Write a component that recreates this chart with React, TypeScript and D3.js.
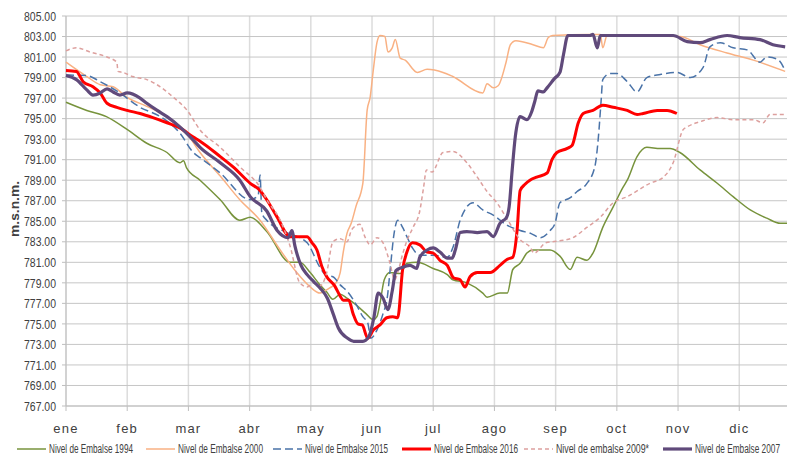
import React from "react";
import * as d3 from "d3";

// month labels (category axis, evenly spaced)
const meses = ["ene", "feb", "mar", "abr", "may", "jun", "jul", "ago", "sep", "oct", "nov", "dic"];
const yTicks = [767, 769, 771, 773, 775, 777, 779, 781, 783, 785, 787, 789, 791, 793, 795, 797, 799, 801, 803, 805];

// [posición en meses desde 1 ene, nivel m.s.n.m.]
const nivel1994: [number, number][] = [
  [0, 796.6], [0.34, 795.8], [0.66, 795.2], [1.01, 793.9], [1.32, 792.6], [1.65, 791.7], [1.86, 790.7], [1.92, 790.9],
  [1.97, 790.2], [2.19, 789.0], [2.52, 787.1], [2.84, 785.1], [3.01, 785.4], [3.28, 784.0], [3.66, 781.0], [3.82, 781.0],
  [3.99, 780.0], [4.15, 778.8], [4.26, 778.1], [4.36, 777.4], [4.48, 777.9], [4.59, 777.5], [4.75, 776.8], [4.9, 776.0],
  [5.02, 775.4], [5.08, 775.7], [5.13, 777.0], [5.2, 779.3], [5.29, 780.0], [5.46, 779.9], [5.57, 780.9], [5.74, 781.0],
  [6.0, 780.4], [6.23, 779.8], [6.32, 779.3], [6.55, 779.0], [6.81, 778.0], [6.88, 777.6], [7.09, 778.0], [7.21, 778.0],
  [7.3, 780.3], [7.42, 780.9], [7.53, 781.9], [7.63, 782.2], [7.75, 782.2], [7.91, 782.2], [8.07, 781.6], [8.24, 780.3],
  [8.35, 781.5], [8.51, 781.2], [8.61, 781.9], [8.77, 784.4], [8.94, 786.4], [9.1, 788.3], [9.17, 789.0], [9.33, 791.3],
  [9.49, 792.2], [9.71, 792.1], [9.87, 792.1], [10.03, 791.7], [10.36, 790.0], [10.64, 788.7], [10.9, 787.4],
  [11.18, 786.1], [11.45, 785.3], [11.67, 784.8], [11.78, 784.8],
];

const nivel2000: [number, number][] = [
  [0, 800.5], [0.34, 799.1], [0.56, 798.3], [0.77, 798.1], [0.99, 797.1], [1.32, 796.2], [1.65, 795.2], [1.97, 793.6],
  [2.19, 791.7], [2.52, 789.4], [2.84, 787.1], [3.17, 785.1], [3.5, 782.2], [3.77, 780.0], [3.99, 778.6], [4.15, 778.0],
  [4.22, 778.2], [4.31, 778.5], [4.41, 779.0], [4.48, 780.0], [4.53, 782.0], [4.59, 783.8], [4.66, 784.8], [4.74, 786.5],
  [4.85, 788.7], [4.92, 795.8], [4.97, 797.1], [5.02, 799.7], [5.08, 802.4], [5.13, 803.1], [5.21, 803.0], [5.26, 801.5],
  [5.33, 801.9], [5.38, 802.7], [5.46, 800.9], [5.54, 800.7], [5.74, 799.5], [5.9, 799.8], [6.16, 799.5], [6.32, 799.1],
  [6.81, 797.5], [6.88, 798.4], [6.98, 798.0], [7.06, 798.2], [7.19, 800.5], [7.26, 802.2], [7.35, 802.6], [7.63, 802.2],
  [7.8, 801.9], [7.88, 802.9], [7.95, 803.1], [8.56, 803.2], [8.73, 803.2], [8.77, 801.9], [8.84, 803.1], [10.03, 803.0],
  [10.36, 802.2], [10.8, 801.4], [11.23, 800.7], [11.75, 799.6],
];

const nivel2015: [number, number][] = [
  [0, 799.25], [0.34, 799.2], [0.56, 798.6], [0.88, 797.5], [1.21, 796.1], [1.54, 795.2], [1.86, 793.6], [2.08, 791.7],
  [2.19, 791.2], [2.52, 789.7], [3.01, 787.1], [3.14, 787.5], [3.17, 789.5], [3.2, 785.8], [3.28, 785.1], [3.61, 783.9],
  [3.94, 782.9], [4.15, 780.5], [4.26, 779.7], [4.36, 779.6], [4.48, 778.8], [4.59, 778.2], [4.75, 776.8], [4.85, 775.7],
  [4.93, 775.1], [4.98, 773.6], [5.08, 774.4], [5.18, 776.0], [5.25, 777.6], [5.3, 780.5], [5.36, 783.8], [5.42, 785.1],
  [5.5, 784.4], [5.57, 783.5], [5.66, 782.4], [5.78, 781.7], [6.0, 781.7], [6.23, 781.5], [6.33, 782.6], [6.44, 785.1],
  [6.65, 786.8], [6.81, 786.1], [6.98, 785.6], [7.21, 784.6], [7.42, 784.1], [7.6, 783.8], [7.75, 783.4], [7.91, 784.1],
  [7.99, 784.8], [8.07, 786.8], [8.24, 787.3], [8.35, 787.9], [8.5, 788.6], [8.64, 790.3], [8.7, 793.3], [8.74, 796.5],
  [8.77, 798.8], [8.89, 799.4], [9.0, 799.4], [9.17, 798.6], [9.33, 797.6], [9.49, 799.0], [9.71, 799.3], [9.98, 799.5],
  [10.2, 799.0], [10.41, 800.0], [10.52, 802.0], [10.69, 802.4], [10.9, 801.9], [11.13, 801.7], [11.34, 800.5],
  [11.45, 801.0], [11.62, 800.8], [11.75, 799.7],
];

const nivel2016: [number, number][] = [
  [0, 799.7], [0.17, 799.6], [0.28, 798.6], [0.44, 798.1], [0.56, 797.5], [0.67, 796.5], [0.83, 796.1], [1.0, 795.8],
  [1.21, 795.5], [1.42, 795.1], [1.65, 794.6], [1.86, 794.1], [2.08, 793.2], [2.19, 792.8], [2.52, 791.3], [2.73, 790.3],
  [3.01, 788.7], [3.17, 788.0], [3.28, 787.1], [3.45, 785.4], [3.66, 783.5], [3.94, 783.5], [4.02, 782.9], [4.1, 782.2],
  [4.18, 780.6], [4.26, 779.6], [4.39, 778.7], [4.48, 777.7], [4.53, 777.3], [4.62, 777.3], [4.69, 776.0], [4.77, 775.0],
  [4.84, 774.9], [4.93, 773.6], [5.02, 774.4], [5.13, 774.9], [5.24, 775.6], [5.34, 775.7], [5.42, 775.6], [5.5, 780.3],
  [5.57, 782.0], [5.66, 782.9], [5.78, 782.7], [5.9, 782.0], [6.0, 781.9], [6.11, 781.2], [6.23, 780.7], [6.33, 779.5],
  [6.44, 779.3], [6.52, 778.6], [6.6, 779.6], [6.72, 780.0], [6.93, 780.0], [7.09, 780.7], [7.21, 781.3], [7.3, 781.5],
  [7.37, 784.1], [7.42, 788.0], [7.5, 788.6], [7.58, 789.0], [7.69, 789.3], [7.86, 789.7], [7.94, 791.0], [8.02, 791.7],
  [8.19, 792.1], [8.27, 792.4], [8.37, 794.6], [8.45, 795.5], [8.61, 795.8], [8.77, 796.3], [8.94, 796.1], [9.17, 795.8],
  [9.33, 795.4], [9.43, 795.5], [9.66, 795.8], [9.82, 795.8], [9.98, 795.5],
];

const nivel2009: [number, number][] = [
  [0, 801.6], [0.17, 801.9], [0.39, 801.5], [0.67, 801.0], [0.83, 800.5], [0.85, 799.6], [0.93, 799.5], [1.09, 799.1],
  [1.32, 798.8], [1.54, 798.1], [1.75, 797.1], [1.98, 795.8], [2.19, 793.9], [2.52, 792.2], [2.84, 790.3], [3.17, 788.3],
  [3.28, 787.1], [3.5, 785.1], [3.66, 782.6], [3.82, 779.0], [3.94, 778.6], [4.04, 779.0], [4.15, 778.7], [4.26, 780.0],
  [4.36, 783.0], [4.48, 783.3], [4.59, 783.0], [4.67, 784.2], [4.8, 784.7], [4.89, 783.4], [4.97, 782.7], [5.08, 783.4],
  [5.18, 782.9], [5.29, 781.0], [5.37, 779.3], [5.42, 780.0], [5.5, 781.8], [5.57, 783.1], [5.67, 784.4], [5.78, 786.0],
  [5.84, 788.2], [5.89, 790.0], [5.98, 789.8], [6.16, 791.7], [6.32, 791.8], [6.55, 790.7], [6.72, 789.3], [6.88, 787.9],
  [7.04, 786.8], [7.21, 785.2], [7.42, 783.2], [7.58, 782.5], [7.65, 781.9], [7.84, 782.9], [8.07, 783.1], [8.28, 783.4],
  [8.51, 784.4], [8.73, 785.4], [8.94, 786.8], [9.17, 787.4], [9.54, 788.7], [9.76, 789.3], [9.92, 790.7], [10.08, 793.9],
  [10.15, 794.2], [10.36, 794.7], [10.64, 795.1], [10.9, 794.9], [11.23, 794.9], [11.39, 794.6], [11.5, 795.4],
  [11.75, 795.4],
];

const nivel2007: [number, number][] = [
  [0, 799.2], [0.17, 798.8], [0.34, 797.8], [0.44, 797.3], [0.56, 797.5], [0.67, 797.9], [0.77, 797.6], [0.88, 797.3],
  [1.0, 797.5], [1.21, 797.0], [1.32, 796.5], [1.49, 795.8], [1.65, 795.2], [1.86, 794.2], [2.08, 792.9], [2.19, 792.2],
  [2.52, 790.7], [2.84, 789.0], [3.01, 787.4], [3.28, 786.0], [3.45, 784.1], [3.63, 783.4], [3.69, 784.1], [3.74, 782.6],
  [3.84, 780.7], [3.94, 779.8], [4.05, 779.1], [4.15, 778.5], [4.27, 777.5], [4.37, 775.9], [4.45, 774.6], [4.6, 773.6],
  [4.7, 773.3], [4.85, 773.3], [4.95, 773.8], [5.03, 775.6], [5.1, 778.0], [5.18, 777.5], [5.26, 776.4], [5.33, 778.2],
  [5.39, 780.2], [5.49, 780.5], [5.62, 780.7], [5.73, 780.4], [5.78, 781.5], [5.9, 782.2], [6.0, 782.4], [6.11, 782.0],
  [6.23, 781.4], [6.31, 781.4], [6.36, 782.2], [6.44, 783.9], [6.55, 784.0], [6.72, 783.9], [6.88, 784.0], [6.98, 783.5],
  [7.09, 784.8], [7.2, 785.4], [7.24, 786.4], [7.29, 790.0], [7.34, 793.2], [7.42, 795.2], [7.53, 794.9], [7.61, 795.7],
  [7.66, 796.7], [7.71, 797.7], [7.8, 797.6], [7.86, 798.0], [7.98, 798.9], [8.07, 799.5], [8.13, 801.3], [8.2, 803.1],
  [8.56, 803.1], [8.61, 803.2], [8.68, 801.9], [8.73, 803.1], [9.92, 803.1], [10.15, 802.5], [10.36, 802.4],
  [10.52, 802.7], [10.8, 803.1], [11.01, 802.9], [11.34, 802.7], [11.55, 802.2], [11.75, 802.0],
];

const series = [
  { name: "Nivel de Embalse 1994", data: nivel1994, color: "#77933C", width: 1.5, dash: "" },
  { name: "Nivel de Embalse 2000", data: nivel2000, color: "#F9B183", width: 1.5, dash: "" },
  { name: "Nivel de Embalse 2015", data: nivel2015, color: "#4A73A8", width: 1.5, dash: "8,4" },
  { name: "Nivel de Embalse 2016", data: nivel2016, color: "#FF0000", width: 3, dash: "" },
  { name: "Nivel de embalse 2009*", data: nivel2009, color: "#DDA09E", width: 1.5, dash: "4,3" },
  { name: "Nivel de Embalse 2007", data: nivel2007, color: "#604A7B", width: 3.2, dash: "" },
];

// legend item positions: [line start, text width]
const legendX = [17, 146, 273, 402, 524, 663];
const legendW = [84, 85, 83, 84, 93, 85];

export default function App() {
  const W = 795;
  const H = 459;
  const left = 66;
  const right = 787;
  const top = 16;
  const bottom = 406;

  const x = d3.scaleLinear().domain([0, 11.78]).range([left, right]);
  const y = d3.scaleLinear().domain([767, 805]).range([bottom, top]);
  const line = d3
    .line<[number, number]>()
    .x((d) => x(d[0]))
    .y((d) => y(d[1]))
    .curve(d3.curveMonotoneX);

  const font = "'Liberation Sans', Arial, sans-serif";

  return (
    <svg width={W} height={H} style={{ position: "absolute", left: 0, top: 0, background: "#fff" }}>
      {/* vertical gridlines */}
      {meses.map((m, i) => (
        <line key={m} x1={x(i)} x2={x(i)} y1={top} y2={bottom} stroke="#DCDCDC" strokeWidth={1.5} />
      ))}
      {/* horizontal gridlines */}
      {yTicks.map((t) => (
        <line key={t} x1={left} x2={right} y1={y(t)} y2={y(t)} stroke="#C6C6C6" strokeWidth={1} />
      ))}
      {/* axes */}
      <line x1={left} x2={left} y1={top} y2={bottom} stroke="#BFBFBF" />
      <line x1={left} x2={right} y1={bottom} y2={bottom} stroke="#BFBFBF" />
      {yTicks.map((t) => (
        <line key={"yt" + t} x1={left - 4} x2={left} y1={y(t)} y2={y(t)} stroke="#BFBFBF" />
      ))}
      {meses.map((m, i) => (
        <line key={"xt" + m} x1={x(i)} x2={x(i)} y1={bottom} y2={bottom + 5} stroke="#BFBFBF" />
      ))}
      {yTicks.map((t) => (
        <text
          key={"yl" + t}
          x={left - 10}
          y={y(t)}
          dy="0.36em"
          textAnchor="end"
          fontSize={13}
          fill="#404040"
          fontFamily={font}
          textLength={32}
          lengthAdjust="spacingAndGlyphs"
        >
          {t.toFixed(2)}
        </text>
      ))}
      {meses.map((m, i) => (
        <text key={"xl" + m} x={x(i)} y={433} textAnchor="middle" fontSize={13} letterSpacing={1.2} fill="#404040" fontFamily={font}>
          {m}
        </text>
      ))}
      <text
        transform="translate(19,209) rotate(-90)"
        textAnchor="middle"
        fontSize={12}
        fontWeight="bold"
        fill="#404040"
        fontFamily={font}
        textLength={56}
        lengthAdjust="spacingAndGlyphs"
      >
        m.s.n.m.
      </text>

      {/* series */}
      {series.map((s) => (
        <path
          key={s.name}
          d={line(s.data) || ""}
          fill="none"
          stroke={s.color}
          strokeWidth={s.width}
          strokeDasharray={s.dash || undefined}
          strokeLinejoin="round"
        />
      ))}

      {/* legend */}
      {series.map((s, i) => (
        <g key={"lg" + s.name} transform={`translate(${legendX[i]},449)`}>
          <line x1={0} x2={29} y1={0} y2={0} stroke={s.color} strokeWidth={s.width} strokeDasharray={s.dash || undefined} />
          <text
            x={32}
            y={0}
            dy="0.36em"
            fontSize={12}
            fill="#404040"
            fontFamily={font}
            textLength={legendW[i]}
            lengthAdjust="spacingAndGlyphs"
          >
            {s.name}
          </text>
        </g>
      ))}
    </svg>
  );
}
